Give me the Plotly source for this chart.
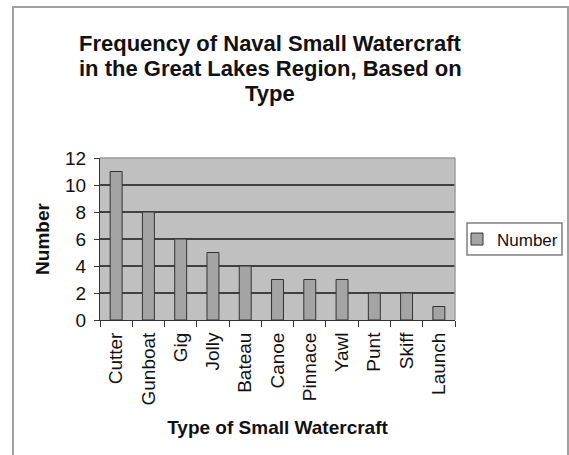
import plotly.graph_objects as go

categories = ["Cutter", "Gunboat", "Gig", "Jolly", "Bateau", "Canoe",
              "Pinnace", "Yawl", "Punt", "Skiff", "Launch"]
counts = [11, 8, 6, 5, 4, 3, 3, 3, 2, 2, 1]
y_ticks = [0, 2, 4, 6, 8, 10, 12]
title_lines = ["Frequency of Naval Small Watercraft",
               "in the Great Lakes Region, Based on",
               "Type"]

W, H = 569, 455
L, R, T, B = 100, 455, 158, 320  # plot area in pixels
pw, ph = R - L, B - T

def px_x(x):
    return (x - L) / pw

def px_y(y):
    return (B - y) / ph

FONT = "Liberation Sans, Arial, sans-serif"

fig = go.Figure()
fig.add_trace(go.Bar(
    x=categories, y=counts, name="Number",
    marker=dict(color="#a4a4a4", line=dict(color="#333333", width=1)),
    showlegend=True,
))

annotations = []
for line, ypix in zip(title_lines, [43, 68, 93]):
    annotations.append(dict(
        text="<b>%s</b>" % line, xref="paper", yref="paper",
        x=px_x(270), y=px_y(ypix), xanchor="center", yanchor="middle",
        showarrow=False, font=dict(family=FONT, size=22, color="#111111")))

fig.update_layout(
    width=W, height=H,
    margin=dict(l=L, r=W - R, t=T, b=H - B, autoexpand=False),
    paper_bgcolor="white", plot_bgcolor="#c0c0c0",
    font=dict(family=FONT, color="#111111"),
    bargap=0.63,
    annotations=annotations,
    showlegend=True,
    legend=dict(
        x=px_x(457), y=px_y(239.5), xanchor="left", yanchor="middle",
        bgcolor="rgba(0,0,0,0)", borderwidth=0,
        font=dict(family=FONT, size=17, color="#111111"),
        itemwidth=30,
    ),
    shapes=[
        # outer chart border
        dict(type="rect", xref="paper", yref="paper",
             x0=px_x(13), x1=px_x(568), y0=px_y(470), y1=px_y(7),
             line=dict(color="#a0a0a0", width=2), layer="below"),
        # legend box
        dict(type="rect", xref="paper", yref="paper",
             x0=px_x(467), x1=px_x(562), y0=px_y(255), y1=px_y(223),
             line=dict(color="#808080", width=1.5), fillcolor="white",
             layer="below"),
        # plot area border (top / right in light gray)
        dict(type="line", xref="paper", yref="paper",
             x0=0, x1=1, y0=1, y1=1,
             line=dict(color="#9a9a9a", width=1.5), layer="above"),
        dict(type="line", xref="paper", yref="paper",
             x0=1, x1=1, y0=0, y1=1,
             line=dict(color="#9a9a9a", width=1.5), layer="above"),
    ],
)

fig.update_xaxes(
    type="category", tickangle=-90, showgrid=False,
    showline=True, linecolor="#333333", linewidth=1,
    ticks="outside", ticklen=6, tickcolor="#333333", tickson="boundaries",
    ticklabelstandoff=4,
    tickfont=dict(family=FONT, size=19, color="#111111"),
    title=dict(text="<b>Type of Small Watercraft</b>",
               font=dict(family=FONT, size=19, color="#111111"), standoff=16),
    automargin=False,
)
fig.update_yaxes(
    range=[0, 12], tickvals=y_ticks, showgrid=True,
    gridcolor="#404040", gridwidth=1.5, zeroline=False,
    showline=True, linecolor="#333333", linewidth=1,
    ticks="outside", ticklen=5, tickcolor="#333333",
    ticklabelstandoff=4,
    tickfont=dict(family=FONT, size=19, color="#111111"),
    title=dict(text="<b>Number</b>",
               font=dict(family=FONT, size=19, color="#111111"), standoff=10),
    automargin=False,
)

fig.write_html("out.html", config={"displayModeBar": False},
               post_script="document.body.style.margin='0px';")
